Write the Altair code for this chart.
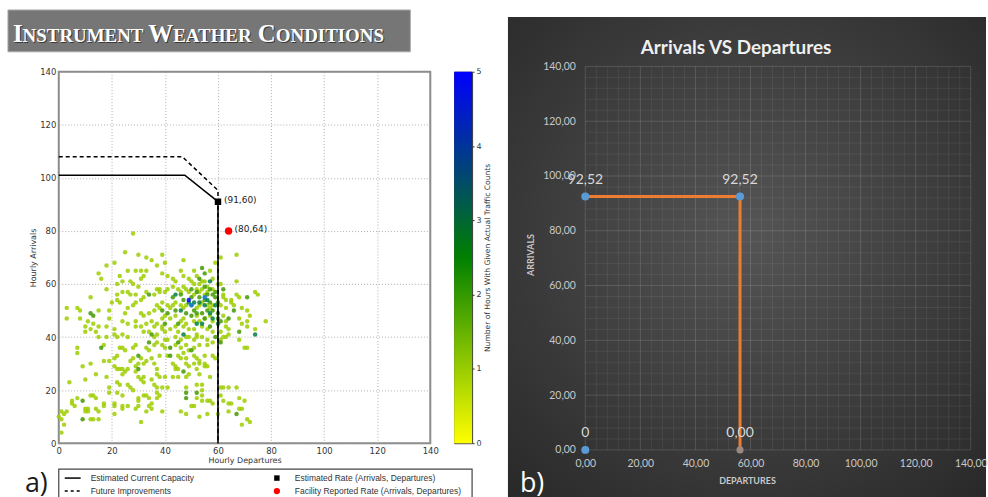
import altair as alt
import pandas as pd

# ---------------------------------------------------------------------------
# Panel a) - hourly (departures, arrivals) pairs, grouped by how many hours
# showed that exact pair
# ---------------------------------------------------------------------------
counts_1 = [
    (28, 79), (25, 72), (30, 71), (33, 70), (35, 69), (39, 71), (21, 68), (18, 67), (40, 68),
    (23, 63), (26, 65), (29, 65), (31, 65), (33, 65), (15, 64), (16, 62), (37, 67), (24, 61),
    (27, 61), (28, 60), (31, 62), (32, 63), (18, 58), (22, 60), (24, 57), (26, 57), (27, 56),
    (30, 59), (33, 57), (32, 55), (37, 58), (38, 57), (36, 56), (12, 55), (22, 56), (22, 54),
    (23, 53), (29, 56), (31, 54), (3, 51), (7, 51), (8, 50), (20, 53), (26, 51), (25, 49),
    (28, 52), (29, 53), (31, 49), (32, 48), (34, 49), (36, 50), (37, 52), (38, 51), (15, 50),
    (19, 50), (3, 47), (8, 47), (19, 47), (24, 46), (26, 45), (29, 46), (33, 45), (35, 46),
    (36, 44), (37, 45), (39, 47), (11, 46), (13, 45), (10, 44), (10, 42), (12, 43), (14, 42),
    (15, 44), (18, 44), (15, 40), (18, 40), (21, 43), (22, 40), (24, 41), (26, 40), (29, 44),
    (31, 44), (32, 42), (34, 42), (36, 40), (37, 41), (39, 44), (41, 63), (39, 64), (47, 69),
    (61, 70), (67, 71), (59, 68), (51, 65), (52, 63), (46, 65), (47, 63), (49, 62), (57, 65),
    (58, 62), (43, 62), (44, 61), (50, 61), (51, 60), (53, 60), (54, 61), (55, 61), (56, 59),
    (60, 60), (61, 60), (67, 61), (38, 58), (40, 57), (41, 58), (43, 59), (45, 58), (46, 57),
    (47, 59), (48, 58), (49, 57), (51, 56), (52, 58), (53, 57), (54, 58), (55, 56), (56, 57),
    (58, 58), (62, 56), (62, 55), (63, 54), (65, 54), (67, 56), (68, 55), (74, 57), (75, 56),
    (39, 53), (41, 52), (42, 51), (43, 52), (44, 53), (46, 52), (47, 51), (48, 52), (50, 52),
    (52, 51), (53, 52), (54, 53), (56, 52), (57, 51), (58, 52), (61, 52), (63, 51), (65, 53),
    (66, 52), (69, 51), (71, 50), (40, 48), (42, 47), (44, 48), (46, 46), (47, 47), (48, 45),
    (51, 46), (52, 48), (53, 46), (55, 47), (57, 48), (58, 46), (62, 48), (63, 46), (68, 47),
    (69, 45), (71, 46), (72, 48), (78, 46), (39, 43), (40, 42), (42, 43), (44, 44), (45, 42),
    (47, 44), (49, 43), (51, 43), (52, 41), (54, 44), (56, 43), (58, 42), (61, 42), (63, 44),
    (64, 43), (71, 44), (74, 43),
    (7, 36), (7, 34), (9, 29), (12, 30), (4, 23), (10, 24), (14, 26), (18, 25), (19, 21),
    (17, 37), (21, 41), (23, 36), (24, 36), (25, 35), (17, 31), (19, 31), (21, 32), (22, 33),
    (21, 29), (22, 28), (23, 28), (24, 28), (26, 28), (24, 26), (25, 27), (29, 27), (29, 29),
    (31, 32), (30, 30), (32, 30), (33, 31), (27, 31), (28, 32), (28, 36), (29, 37), (33, 36),
    (34, 35), (36, 37), (37, 38), (38, 33), (35, 32), (36, 30), (37, 28), (37, 26), (38, 25),
    (30, 25), (31, 24), (32, 25), (32, 23), (26, 22), (27, 21), (22, 23), (23, 22), (28, 20),
    (35, 24), (36, 22), (37, 21), (37, 19), (7, 17), (12, 18), (13, 18), (14, 17), (5, 16),
    (5, 15), (6, 14), (3, 12), (2, 11), (1, 9), (2, 7), (1, 4), (0, 10), (1, 12), (10, 13),
    (11, 13), (11, 12), (10, 12), (14, 13), (15, 12), (12, 9), (13, 9), (15, 9), (17, 15),
    (17, 14), (21, 15), (21, 14), (24, 14), (24, 13), (26, 14), (21, 11), (30, 14), (29, 13),
    (33, 12), (35, 13), (32, 18), (33, 18), (34, 17), (30, 16), (30, 17), (37, 17), (38, 18),
    (31, 8), (35, 15), (34, 14), (19, 19), (22, 19), (24, 18),
    (40, 39), (41, 39), (44, 40), (46, 39), (48, 40), (49, 40), (51, 39), (52, 40), (54, 40),
    (56, 39), (61, 39), (63, 40), (64, 41), (68, 39), (39, 37), (40, 36), (44, 37), (46, 36),
    (48, 37), (49, 35), (51, 36), (53, 37), (56, 37), (58, 38), (70, 36), (71, 36), (41, 33),
    (45, 33), (46, 32), (48, 32), (47, 34), (51, 33), (52, 32), (53, 31), (55, 30), (55, 33),
    (58, 33), (59, 32), (43, 30), (44, 29), (44, 28), (45, 28), (48, 30), (49, 29), (51, 30),
    (53, 30), (55, 29), (56, 29), (52, 28), (40, 25), (43, 25), (45, 25), (48, 25), (49, 26),
    (57, 25), (53, 26), (39, 21), (41, 21), (48, 21), (52, 22), (54, 22), (54, 20), (54, 18),
    (52, 17), (54, 16), (56, 16), (50, 14), (51, 14), (62, 21), (67, 21), (64, 21), (61, 21),
    (61, 18), (62, 16), (64, 15), (65, 15), (70, 16), (68, 17), (69, 13), (68, 13), (64, 12),
    (60, 11), (39, 12), (46, 12), (48, 11), (53, 10), (71, 9), (72, 8), (69, 7), (58, 15),
    (57, 16), (56, 11), (62, 40),
]
counts_2 = [
    (34, 56), (13, 48), (12, 49), (16, 36), (30, 33), (30, 28), (9, 16), (9, 9), (54, 66),
    (55, 64), (50, 55), (59, 55), (46, 56), (55, 54), (57, 53), (48, 49), (51, 50), (52, 49),
    (56, 50), (58, 50), (60, 49), (47, 54), (52, 57), (53, 55), (56, 56), (57, 58), (59, 57),
    (58, 56), (50, 48), (54, 49), (55, 47), (60, 47), (61, 46), (61, 38), (42, 36), (42, 33),
    (48, 19), (48, 17), (52, 19), (67, 11), (45, 45), (43, 55), (50, 58), (53, 62), (44, 50),
    (41, 49), (39, 50), (35, 41), (34, 38), (40, 45), (57, 44), (59, 40), (45, 38), (47, 27),
    (50, 35), (71, 55), (68, 42), (64, 47), (66, 50), (62, 58), (55, 59), (60, 53),
]
counts_3 = [
    (49, 53), (53, 53), (56, 54), (57, 49), (59, 52), (54, 45), (60, 45), (74, 41), (51, 53),
    (55, 52), (58, 47), (46, 50), (52, 45), (47, 41), (44, 56), (57, 61),
]
counts_4 = [(50, 52), (55, 55)]
counts_5 = [(49, 54)]

# Capacity envelopes (departures, arrivals)
capacity_dep = [0, 47.5, 60, 60]
capacity_arr = [101, 101, 91, 0]
future_dep = [0, 46.5, 60, 60]
future_arr = [108, 108, 95.3, 0]

# Rates: estimated (black square) and facility reported (red dot)
rate_kind = ["estimated", "facility"]
rate_dep = [60, 64]
rate_arr = [91, 80]

# ---------------------------------------------------------------------------
# Panel b) - Arrivals VS Departures
# ---------------------------------------------------------------------------
b_line_dep = [0, 56.2, 56.2]
b_line_arr = [92.52, 92.52, 0]
b_marker_dep = [0, 56.2, 0]
b_marker_arr = [92.52, 92.52, 0]
b_label_dep = [0, 56.2, 0, 56.2]
b_label_arr = [92.52, 92.52, 0, 0]
b_label_text = ["92,52", "92,52", "0", "0,00"]

TICKS = list(range(0, 141, 20))
one = pd.DataFrame({"k": [0]})
CLEAR = alt.ViewBackground(stroke="transparent", fill="transparent")


def filler(w, h):
    """Empty grid cell used to keep the panel-a grid in shape."""
    return alt.Chart(one).mark_point(opacity=0).properties(width=w, height=h, view=CLEAR)


# ------------------------------ panel a ------------------------------------
rows = []
for n, pairs in ((1, counts_1), (2, counts_2), (3, counts_3), (4, counts_4), (5, counts_5)):
    rows += [{"dep": d, "arr": a, "n": n} for d, a in pairs]
traffic = pd.DataFrame(rows)

xs = alt.Scale(domain=[0, 140], nice=False, zero=False)
ys = alt.Scale(domain=[0, 140], nice=False, zero=False)
heat = alt.Scale(domain=[0, 2.5, 5], range=["#ffff00", "#008000", "#0000ff"])

left_axis = dict(
    values=TICKS, labelFont="DejaVu Sans", labelFontSize=8.5, labelColor="#333333",
    titleFont="DejaVu Sans", titleFontSize=8, titleFontWeight="normal", titleColor="#333333",
    grid=True, gridColor="#9a9a9a", gridDash=[1, 2], gridWidth=0.8,
    domain=False, ticks=False, labelPadding=3, titlePadding=2,
    labelFlush=False, labelOverlap=False,
)
XA = alt.Axis(title="Hourly Departures", **left_axis)
YA = alt.Axis(title="Hourly Arrivals", **left_axis)


def dep_x():
    return alt.X("dep:Q", scale=xs, axis=XA)


def arr_y():
    return alt.Y("arr:Q", scale=ys, axis=YA)


points = alt.Chart(traffic).mark_circle(size=20, opacity=0.85).encode(
    x=dep_x(), y=arr_y(), color=alt.Color("n:Q", scale=heat, legend=None),
)

cap_df = pd.DataFrame({"dep": capacity_dep, "arr": capacity_arr, "step": list(range(4))})
fut_df = pd.DataFrame({"dep": future_dep, "arr": future_arr, "step": list(range(4))})

future_line = alt.Chart(fut_df).mark_line(color="black", strokeWidth=1.5, strokeDash=[4, 3]).encode(
    x=dep_x(), y=arr_y(), order="step:O")
capacity_line = alt.Chart(cap_df).mark_line(color="black", strokeWidth=1.6).encode(
    x=dep_x(), y=arr_y(), order="step:O")

rates = pd.DataFrame({"kind": rate_kind, "dep": rate_dep, "arr": rate_arr})
rates["label"] = "(" + rates["arr"].astype(str) + "," + rates["dep"].astype(str) + ")"

est_mark = alt.Chart(rates).transform_filter("datum.kind == 'estimated'").mark_square(
    size=42, color="black", opacity=1).encode(x=dep_x(), y=arr_y())
fac_mark = alt.Chart(rates).transform_filter("datum.kind == 'facility'").mark_circle(
    size=55, color="#ff0000", opacity=1).encode(x=dep_x(), y=arr_y())
rate_text = alt.Chart(rates).mark_text(
    align="left", dx=6, dy=-2, fontSize=9, font="DejaVu Sans", color="#222222"
).encode(x=dep_x(), y=arr_y(), text="label:N")

scatter = alt.layer(points, future_line, capacity_line, est_mark, fac_mark, rate_text).properties(
    width=373, height=373, view=alt.ViewBackground(stroke="#8c8c8c", strokeWidth=2)
)

# colour bar for the hour counts
cbar_rect = alt.Chart(pd.DataFrame({"lo": [0], "hi": [5]})).mark_rect(
    color=alt.LinearGradient(
        gradient="linear",
        stops=[
            alt.GradientStop(color="#0000ff", offset=0),
            alt.GradientStop(color="#008000", offset=0.5),
            alt.GradientStop(color="#ffff00", offset=1),
        ],
        x1=0, x2=0, y1=0, y2=1,
    )
).encode(
    y=alt.Y("lo:Q", scale=alt.Scale(domain=[0, 5], nice=False, zero=False), axis=alt.Axis(
        orient="right", values=[0, 1, 2, 3, 4, 5], labelFont="DejaVu Sans", labelFontSize=8,
        labelColor="#333333", tickSize=2, tickColor="#333333", domain=False, grid=False,
        labelPadding=2, title="Number of Hours With Given Actual Traffic Counts", titleAngle=270,
        titleFont="DejaVu Sans", titleFontSize=7.6, titleFontWeight="normal", titleColor="#333333",
        titlePadding=10,
    )),
    y2="hi:Q",
    x=alt.value(0),
    x2=alt.value(18),
)
# invisible anchor fixing the right-hand extent of panel a
cbar_anchor = alt.Chart(one).mark_point(opacity=0, size=1).encode(x=alt.value(45), y=alt.value(0))
cbar = alt.layer(cbar_rect, cbar_anchor).properties(
    width=18, height=373, view=alt.ViewBackground(stroke="#333333", strokeWidth=1)
)

# banner heading with small-caps lettering
heading = pd.DataFrame({
    "part": ["I", "NSTRUMENT", "W", "EATHER", "C", "ONDITIONS"],
    "px": [5, 14.7, 140.9, 165.9, 250.9, 268.9],
    "fs": [25, 19, 25, 19, 25, 19],
})
banner_box = alt.Chart(one).mark_rect(color="#767676", stroke="#a8a8a8", strokeWidth=1).encode(
    x=alt.value(0), x2=alt.value(404), y=alt.value(0), y2=alt.value(42))
heading_shadow = alt.Chart(heading).mark_text(
    font="Liberation Serif", fontWeight="bold", color="#3a3a3a", align="left",
    baseline="alphabetic", dx=1, dy=1,
).encode(x=alt.X("px:Q", scale=None), y=alt.value(32), text="part:N", size=alt.Size("fs:Q", scale=None))
heading_text = alt.Chart(heading).mark_text(
    font="Liberation Serif", fontWeight="bold", color="#ffffff", align="left", baseline="alphabetic"
).encode(x=alt.X("px:Q", scale=None), y=alt.value(32), text="part:N", size=alt.Size("fs:Q", scale=None))
banner = alt.layer(banner_box, heading_shadow, heading_text).properties(width=27, height=42, view=CLEAR)

# legend box under panel a
legend_items = pd.DataFrame({
    "label": ["Estimated Current Capacity", "Future Improvements",
              "Estimated Rate (Arrivals, Departures)", "Facility Reported Rate (Arrivals, Departures)"],
    "col": [0, 0, 1, 1],
    "row": [0, 1, 0, 1],
})
leg_box = alt.Chart(one).mark_rect(fill="white", stroke="#444444", strokeWidth=1.2).encode(
    x=alt.value(0), x2=alt.value(415), y=alt.value(6), y2=alt.value(35))
leg_text = alt.Chart(legend_items).mark_text(
    align="left", baseline="middle", fontSize=8.5, font="Liberation Sans", color="#333333", limit=176
).encode(
    x=alt.X("col:O", scale=alt.Scale(type="point", domain=[0, 1], range=[32, 237], padding=0), axis=None),
    y=alt.Y("row:O", scale=alt.Scale(type="point", domain=[0, 1], range=[15, 28], padding=0), axis=None),
    text="label:N",
)
leg_solid = alt.Chart(one).mark_rule(color="black", strokeWidth=1.5).encode(
    x=alt.value(6), x2=alt.value(22), y=alt.value(15))
leg_dash = alt.Chart(one).mark_rule(color="black", strokeWidth=1.5, strokeDash=[3, 3]).encode(
    x=alt.value(6), x2=alt.value(22), y=alt.value(28))
leg_square = alt.Chart(one).mark_square(size=30, color="black", opacity=1).encode(
    x=alt.value(219), y=alt.value(15))
leg_dot = alt.Chart(one).mark_circle(size=40, color="#ff0000", opacity=1).encode(
    x=alt.value(219), y=alt.value(28))
legend_box = alt.layer(leg_box, leg_solid, leg_dash, leg_square, leg_dot, leg_text).properties(
    width=373, height=36, view=CLEAR
)

tag_a = alt.Chart(one).mark_text(
    text="a)", fontSize=27, font="Open Sans", color="#1a1a1a", align="right", baseline="alphabetic"
).encode(x=alt.value(40), y=alt.value(29)).properties(width=27, height=36, view=CLEAR)

# ------------------------------ panel b ------------------------------------
# scale domains extend past 0..140 so the dark panel also holds title and axes
RX = [-28.1, 145.55]
RY = [-17.93, 160.62]
rxs = alt.Scale(domain=RX, nice=False, zero=False)
rys = alt.Scale(domain=RY, nice=False, zero=False)

comma_fmt = "replace(format(datum.value, '.2f'), '.', ',')"
b_axis = dict(
    values=TICKS, labelExpr=comma_fmt, domain=False, ticks=False, grid=False, zindex=2,
    labelFont="Lato", labelFontSize=10.5, labelColor="#c8c8c8",
    titleFont="Lato", titleFontSize=9, titleFontWeight="bold", titleColor="#c8c8c8",
    labelFlush=False, labelOverlap=False, labelBound=False,
)
XB = alt.Axis(title="DEPARTURES", offset=-49.3, labelPadding=9, titlePadding=7, **b_axis)
YB = alt.Axis(title="ARRIVALS", offset=-77.7, labelPadding=10, titlePadding=7, **b_axis)


def bx(field):
    return alt.X(field, scale=rxs, axis=XB)


def by(field):
    return alt.Y(field, scale=rys, axis=YB)


panel_bg = alt.Chart(one).mark_rect(
    color=alt.RadialGradient(
        gradient="radial",
        stops=[alt.GradientStop(color="#555555", offset=0), alt.GradientStop(color="#262626", offset=1)],
        x1=0.5, y1=0.45, r1=0, x2=0.5, y2=0.45, r2=0.78,
    )
).encode(x=alt.value(0), x2=alt.value(480), y=alt.value(7), y2=alt.value(491))

minor_vals = [v for v in range(0, 141, 4) if v % 20]
minor_grid = pd.DataFrame({"v": minor_vals, "lo": 0, "hi": 140})
major_grid = pd.DataFrame({"v": TICKS, "lo": 0, "hi": 140})

minor_v = alt.Chart(minor_grid).mark_rule(color="#ffffff", opacity=0.07, strokeWidth=1).encode(
    x=bx("v:Q"), y=by("lo:Q"), y2="hi:Q")
minor_h = alt.Chart(minor_grid).mark_rule(color="#ffffff", opacity=0.07, strokeWidth=1).encode(
    y=by("v:Q"), x=bx("lo:Q"), x2="hi:Q")
major_v = alt.Chart(major_grid).mark_rule(color="#ffffff", opacity=0.14, strokeWidth=1).encode(
    x=bx("v:Q"), y=by("lo:Q"), y2="hi:Q")
major_h = alt.Chart(major_grid).mark_rule(color="#ffffff", opacity=0.14, strokeWidth=1).encode(
    y=by("v:Q"), x=bx("lo:Q"), x2="hi:Q")

b_line_df = pd.DataFrame({"dep": b_line_dep, "arr": b_line_arr, "step": list(range(3))})
b_marker_df = pd.DataFrame({"dep": b_marker_dep, "arr": b_marker_arr})
b_label_df = pd.DataFrame({"dep": b_label_dep, "arr": b_label_arr, "label": b_label_text})

b_line = alt.Chart(b_line_df).mark_line(
    color="#ed7d31", strokeWidth=3,
    point=alt.OverlayMarkDef(color="#9c8a80", size=50, filled=True),
).encode(x=bx("dep:Q"), y=by("arr:Q"), order="step:O")
b_markers = alt.Chart(b_marker_df).mark_circle(size=64, color="#5b9bd5", opacity=1).encode(
    x=bx("dep:Q"), y=by("arr:Q"))
b_labels = alt.Chart(b_label_df).mark_text(
    font="Lato", fontSize=14, color="#d9d9d9", dy=-17, baseline="middle"
).encode(x=bx("dep:Q"), y=by("arr:Q"), text="label:N")

b_title = alt.Chart(one).mark_text(
    text="Arrivals  VS  Departures", font="Lato", fontWeight="bold", fontSize=19,
    color="#f0f0f0", baseline="middle"
).encode(x=alt.value(229), y=alt.value(38))
tag_b = alt.Chart(one).mark_text(
    text="b)", fontSize=27, font="Open Sans", color="#ffffff", align="left", baseline="alphabetic"
).encode(x=alt.value(12), y=alt.value(484))

panel_b = alt.layer(
    panel_bg, minor_v, minor_h, major_v, major_h, b_line, b_markers, b_labels, b_title, tag_b
).properties(width=480, height=491, view=CLEAR)

# ------------------------------ layout -------------------------------------
# panel a as one 3x3 grid of views: banner / plot / legend rows
panel_a = alt.concat(
    banner, filler(1, 1), filler(1, 1),
    filler(27, 373), scatter, cbar,
    tag_a, legend_box, filler(1, 1),
    columns=3, spacing={"row": 20, "column": 24}, bounds="flush", align="each",
)

chart = alt.hconcat(panel_a, panel_b, spacing=7).properties(
    padding={"left": 7, "top": 6, "right": 0, "bottom": 0},
    background="white",
).configure_view(stroke="transparent")

chart.save("out.html", embed_options={"renderer": "svg", "actions": False})
